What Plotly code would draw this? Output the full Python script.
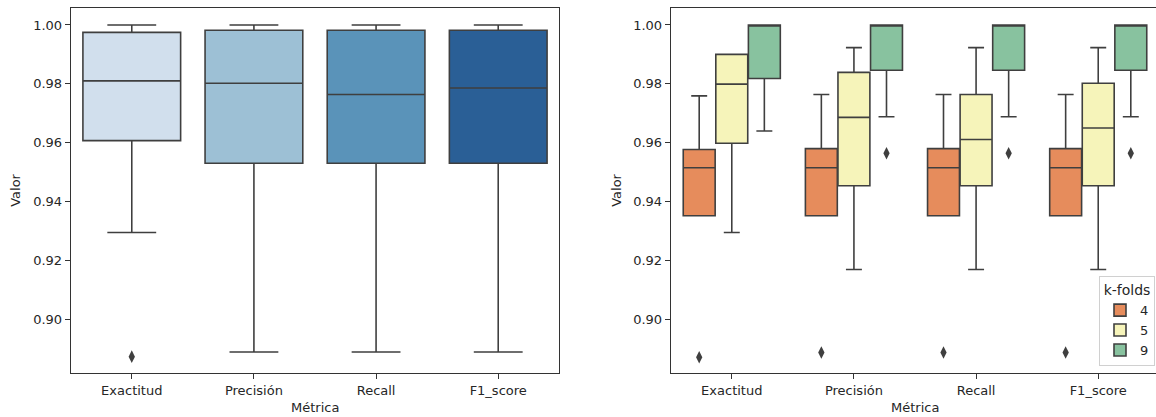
import plotly.graph_objects as go

# ---------------- data ----------------
metrics = ["Exactitud", "Precisión", "Recall", "F1_score"]

# left panel: all k-folds pooled
left_q1 = [0.9607, 0.9530, 0.9530, 0.9530]
left_median = [0.9810, 0.9802, 0.9764, 0.9786]
left_q3 = [0.9975, 0.9982, 0.9982, 0.9982]
left_low = [0.9295, 0.8889, 0.8889, 0.8889]
left_high = [1.0000, 1.0000, 1.0000, 1.0000]
left_outliers = [[0.8873], [], [], []]

# right panel: by k-folds
kfolds = ["4", "5", "9"]
right_q1 = {
    "4": [0.9352, 0.9352, 0.9352, 0.9352],
    "5": [0.9598, 0.9454, 0.9454, 0.9454],
    "9": [0.9818, 0.9846, 0.9846, 0.9846],
}
right_median = {
    "4": [0.9515, 0.9515, 0.9515, 0.9515],
    "5": [0.9799, 0.9686, 0.9611, 0.9650],
    "9": [1.0000, 1.0000, 1.0000, 1.0000],
}
right_q3 = {
    "4": [0.9577, 0.9580, 0.9580, 0.9580],
    "5": [0.9900, 0.9839, 0.9764, 0.9802],
    "9": [1.0000, 1.0000, 1.0000, 1.0000],
}
right_low = {
    "4": [0.9352, 0.9352, 0.9352, 0.9352],
    "5": [0.9295, 0.9169, 0.9169, 0.9169],
    "9": [0.9640, 0.9688, 0.9688, 0.9688],
}
right_high = {
    "4": [0.9759, 0.9764, 0.9764, 0.9764],
    "5": [0.9900, 0.9923, 0.9923, 0.9923],
    "9": [1.0000, 1.0000, 1.0000, 1.0000],
}
right_outliers = {
    "4": [[0.8871], [0.8887], [0.8887], [0.8887]],
    "5": [[], [], [], []],
    "9": [[], [0.9564], [0.9564], [0.9564]],
}

yticks = [0.90, 0.92, 0.94, 0.96, 0.98, 1.00]

# ---------------- style ----------------
left_colors = ["#d1dfed", "#9dc0d5", "#5a93b9", "#2a5f96"]
k_colors = {"4": "#e68c5c", "5": "#f6f4ba", "9": "#88c29f"}
line_col = "#3f3f3f"
font_fam = "DejaVu Sans"
fsize = 13
txt_col = "#262626"

fig = go.Figure()

# left panel
for i, m in enumerate(metrics):
    fig.add_trace(go.Box(
        x=[i], q1=[left_q1[i]], median=[left_median[i]], q3=[left_q3[i]],
        lowerfence=[left_low[i]], upperfence=[left_high[i]],
        width=0.8, whiskerwidth=0.5, fillcolor=left_colors[i],
        line=dict(color=line_col, width=1.6), boxpoints=False,
        showlegend=False, xaxis="x", yaxis="y", hoverinfo="skip"))
    if left_outliers[i]:
        fig.add_trace(go.Scatter(
            x=[i] * len(left_outliers[i]), y=left_outliers[i], mode="markers",
            marker=dict(symbol="diamond-tall", size=9, color=line_col),
            showlegend=False, xaxis="x", yaxis="y", hoverinfo="skip"))

# right panel
hw = 0.8 / 3
for j, k in enumerate(kfolds):
    off = (j - 1) * hw
    for i, m in enumerate(metrics):
        fig.add_trace(go.Box(
            x=[i + off], q1=[right_q1[k][i]], median=[right_median[k][i]],
            q3=[right_q3[k][i]], lowerfence=[right_low[k][i]],
            upperfence=[right_high[k][i]],
            width=hw * 0.98, whiskerwidth=0.5, fillcolor=k_colors[k],
            line=dict(color=line_col, width=1.6), boxpoints=False,
            name=k, legendgroup=k, showlegend=(i == 0),
            xaxis="x2", yaxis="y2", hoverinfo="skip"))
        if right_outliers[k][i]:
            fig.add_trace(go.Scatter(
                x=[i + off] * len(right_outliers[k][i]), y=right_outliers[k][i],
                mode="markers",
                marker=dict(symbol="diamond-tall", size=9, color=line_col),
                showlegend=False, xaxis="x2", yaxis="y2", hoverinfo="skip"))

W, H = 1156, 417
y_dom = [1 - 373.3 / H, 1 - 8.3 / H]
yrange = [0.88165, 1.00567]

axis_common = dict(
    showgrid=False, zeroline=False, showline=True, linecolor="#333333",
    linewidth=1, ticks="outside", ticklen=5, tickwidth=1, tickcolor="#333333",
    tickfont=dict(family=font_fam, size=fsize, color=txt_col),
)

ann_font = dict(family=font_fam, size=fsize, color=txt_col)

fig.update_layout(
    width=W, height=H,
    margin=dict(l=0, r=0, t=0, b=0),
    paper_bgcolor="white", plot_bgcolor="white",
    boxmode="overlay",
    font=dict(family=font_fam, size=fsize, color=txt_col),
    xaxis=dict(domain=[70.7 / W, 559.3 / W], range=[-0.5, 3.5],
               tickvals=list(range(len(metrics))), ticktext=metrics,
               mirror=True, anchor="y", **axis_common),
    yaxis=dict(domain=y_dom, range=yrange, tickvals=yticks,
               ticktext=[f"{v:.2f}" for v in yticks],
               mirror=True, anchor="x", **axis_common),
    xaxis2=dict(domain=[670.7 / W, 1.0], range=[-0.5, -0.5 + (W - 670.7) / 122.15],
                tickvals=list(range(len(metrics))), ticktext=metrics,
                mirror=True, anchor="y2", **axis_common),
    yaxis2=dict(domain=y_dom, range=yrange, tickvals=yticks,
                ticktext=[f"{v:.2f}" for v in yticks],
                mirror=False, anchor="x2", **axis_common),
    legend=dict(
        title=dict(text="k-folds", side="top center",
                   font=dict(family=font_fam, size=14, color=txt_col)),
        x=1155 / W, xanchor="right", y=1 - 366 / H, yanchor="bottom",
        bgcolor="rgba(255,255,255,0.85)", bordercolor="#d0d0d0", borderwidth=1,
        font=dict(family=font_fam, size=fsize, color=txt_col),
        tracegroupgap=0, itemwidth=30,
    ),
    annotations=[
        dict(text="Valor", x=16 / W, y=(y_dom[0] + y_dom[1]) / 2, xref="paper",
             yref="paper", textangle=-90, showarrow=False,
             xanchor="center", yanchor="middle", font=ann_font),
        dict(text="Valor", x=617 / W, y=(y_dom[0] + y_dom[1]) / 2, xref="paper",
             yref="paper", textangle=-90, showarrow=False,
             xanchor="center", yanchor="middle", font=ann_font),
        dict(text="Métrica", x=315 / W, y=1 - 407 / H, xref="paper",
             yref="paper", showarrow=False,
             xanchor="center", yanchor="middle", font=ann_font),
        dict(text="Métrica", x=915 / W, y=1 - 407 / H, xref="paper",
             yref="paper", showarrow=False,
             xanchor="center", yanchor="middle", font=ann_font),
    ],
)

fig.write_html("out.html",
               config={"displayModeBar": False},
               post_script="document.body.style.margin='0';"
                           "document.body.style.overflow='hidden';")
